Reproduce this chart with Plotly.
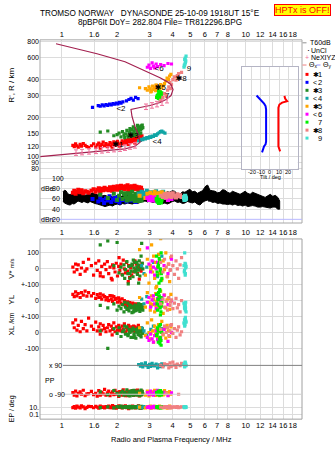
import math
import plotly.graph_objects as go

W, H = 335, 451
FONT = "Liberation Sans, DejaVu Sans, sans-serif"

# ---------------- axes / ticks ----------------
FREQ_TICKS = [1, 1.5, 2, 3, 4, 5, 6, 7, 8, 10, 12, 14, 16, 18]
FREQ_LABELS = ["1", "1.6", "2", "3", "4", "5", "6", "7", "8", "10", "12", "14", "16", "18"]
HEIGHT_TICKS = [80, 90, 100, 120, 150, 200, 300, 400, 600, 800]
DBE_TICKS = [100, 80, 60, 40]
DBE_LABELS = ["100", "80", "60", "40"]
DBN_LEVEL = 20
TILT_TICKS = [-20, -10, 0, 10, 20]
TILT_LABELS = ["-20", "-10", "0", "10", "20"]
LOWER_TICKS = [300, 200, 100, 0, -100, -200, -300]
LOWER_LABELS = ["100", "0", "+-100", "0", "+-100", "0", "-100"]
EP_TICKS = [10, 0.1]
EP_LABELS = ["10.", "0.1"]

# ---------------- true-height profile ----------------
PROF_F = [0.762, 1.372, 1.830, 2.208, 2.501, 2.665, 2.630, 2.501, 2.410, 2.380, 2.665, 3.020,
          3.422, 3.688, 3.927, 4.027, 3.927, 3.735, 3.422, 2.766, 2.208, 1.555, 0.931]
PROF_H = [99.5, 107.5, 111.4, 114.5, 119.8, 128.6, 143.3, 171.5, 205.4, 232.9, 241.4, 250.2,
          264.1, 278.7, 299.7, 333.8, 365.2, 385.5, 414.0, 478.6, 552.6, 638.0, 764.0]
NE_F = [1.196, 1.289, 1.407, 1.536, 1.656, 1.785, 1.924, 2.074, 2.208, 2.351, 2.501,
        2.872, 3.095, 3.296, 3.509, 3.735]
NE_H = [107, 108, 109.5, 110.5, 111.5, 113, 114, 115, 117, 119.5, 122,
        245, 251, 257, 264, 276]

# ---------------- echo classes ----------------
C1_F = [1.15, 1.17, 1.19, 1.21, 1.23, 1.26, 1.28, 1.31, 1.34, 1.37,
        1.45, 1.49, 1.53, 1.56, 1.59, 1.62, 1.65, 1.68, 1.71, 1.74,
        1.77, 1.80, 1.83, 1.86, 1.89, 1.92, 1.95, 1.98, 2.01, 2.04,
        2.07, 2.10, 2.13, 2.16, 2.19, 2.22, 2.25, 2.28, 2.31, 2.34,
        2.37, 2.40, 2.43, 2.46, 2.49, 2.52, 2.55, 2.58, 2.61, 2.64,
        2.67, 2.70, 2.73, 1.40, 1.62, 1.88, 2.05, 2.30, 2.50, 2.68]
C1_R = [122, 119, 125, 121, 118, 124, 120, 126, 122, 119,
        121, 125, 118, 123, 127, 120, 124, 129, 121, 126,
        119, 123, 128, 121, 125, 130, 122, 126, 131, 124,
        120, 127, 132, 125, 129, 134, 127, 131, 136, 128,
        133, 138, 130, 135, 141, 134, 139, 145, 137, 142,
        148, 140, 145, 117, 116, 118, 121, 124, 127, 133]
C1_AMP = [72, 76, 70, 74, 78, 73, 77, 71, 75, 74,
          76, 79, 74, 78, 81, 75, 80, 77, 82, 78,
          80, 77, 83, 79, 81, 84, 78, 82, 85, 80,
          83, 86, 81, 84, 79, 85, 82, 87, 80, 84,
          82, 85, 79, 83, 86, 80, 84, 81, 78, 83,
          79, 82, 77, 72, 73, 76, 78, 75, 80, 77]
C1_V = [10, -20, 30, -5, 25, -35, 5, 40, -15, 0,
        20, -40, 35, -10, 50, -25, 15, -50, 30, -5,
        45, -30, 10, -60, 25, 5, -20, 35, -45, 15,
        -10, 30, -35, 55, 0, -25, 40, -15, 20, -55,
        5, -40, 25, -20, 45, -5, 30, -30, 10, -65,
        20, -15, 35, 60, -45, -70, 70, -80, 50, 0]
C1_YL = [40, 25, 55, 30, 45, 20, 50, 35, 60, 28,
         30, 45, 15, 38, 20, 42, 10, 35, 25, 5,
         20, 0, 32, 10, -5, 25, 8, 15, -10, 18,
         5, -15, 12, -25, 0, -20, -30, -8, -35, -12,
         -25, -40, -15, -30, -45, -20, -35, -50, -28, -40,
         -38, -55, -30, 50, 22, 30, -2, -18, -48, -25]
C1_XL = [60, 30, 80, 15, 45, 5, 70, 25, 50, 10,
         40, 20, 65, 10, 35, 55, 15, 45, 25, 5,
         30, 50, 10, 40, 20, 60, 5, 35, 15, 45,
         25, 10, 40, 20, 55, 5, 30, 15, 45, 0,
         20, 35, 10, 40, 25, 5, 30, 15, 45, 20,
         10, 30, 5, 90, -10, -15, 15, 25, 35, 20]
C1_PP = [-80, -95, -70, -100, -85, -75, -90, -65, -98, -88,
         -72, -92, -84, -102, -68, -95, -78, -88, -60, -96,
         -82, -70, -99, -86, -75, -93, -66, -90, -80, -104,
         -74, -88, -95, -62, -84, -99, -77, -90, -70, -86,
         -93, -80, -68, -97, -85, -75, -92, -64, -88, -100,
         -78, -94, -71, -86, -90, -83, -76, -98, -67, -89]
C1_EP = [8, 15, 5, 20, 10, 6, 25, 12, 4, 9,
         14, 7, 18, 11, 5, 22, 9, 13, 6, 16,
         10, 19, 7, 12, 28, 8, 15, 5, 11, 20,
         9, 14, 6, 17, 10, 24, 8, 12, 4, 13,
         11, 7, 21, 9, 16, 6, 13, 10, 26, 8,
         15, 5, 12, 18, 9, 7, 22, 11, 14, 6]

C2_F = [1.47, 1.58, 1.62, 1.66, 1.70, 1.74, 1.78, 1.82, 1.86, 1.90, 1.94,
        1.98, 2.02, 2.06, 2.10, 2.15, 2.25, 2.32, 2.38, 2.45, 2.52, 2.60]
C2_R = [242, 250, 247, 253, 249, 255, 251, 257, 253, 259, 256,
        262, 258, 265, 261, 267, 272, 279, 285, 276, 290, 283]
C2_AMP = [60, 55, 63, 58, 52, 61, 57, 65, 54, 59, 62,
          56, 64, 53, 60, 58, 55, 62, 57, 61, 54, 59]

C3_F = [1.62, 1.78, 1.92, 2.00, 2.05, 2.10, 2.14, 2.18, 2.22, 2.26,
        2.29, 2.32, 2.35, 2.38, 2.41, 2.44, 2.47, 2.50, 2.53, 2.56,
        2.58, 2.60, 2.62, 2.64, 2.66, 2.68, 2.70, 2.72, 2.74, 2.76,
        2.20, 2.30, 2.40, 2.48, 2.55, 2.62, 2.69, 2.35, 2.45, 2.58]
C3_R = [155, 158, 145, 148, 152, 142, 156, 147, 150, 160,
        145, 153, 158, 148, 162, 152, 157, 165, 150, 160,
        155, 168, 158, 163, 170, 161, 173, 165, 176, 168,
        140, 142, 144, 146, 148, 150, 152, 165, 170, 175]
C3_AMP = [68, 62, 70, 58, 66, 73, 60, 69, 64, 57, 71, 63, 67, 59, 74, 61, 66, 56, 70, 64,
          60, 68, 72, 58, 65, 62, 69, 57, 63, 67, 71, 59, 65, 62, 68, 56, 64, 70, 61, 66]
C3_V = [150, 175, 20, 165, -25, 10, -40, 25, -5, 45,
        -30, 15, -60, -15, 30, -50, 5, 40, -20, 10,
        -35, 25, -8, 50, -45, 15, 80, 160, 35, 0,
        -60, -95, 20, -15, 40, -90, 10, -30, 55, -5]
C3_YL = [-30, -45, -20, -60, -35, -50, -25, -70, -40, -55,
         -15, -65, -30, -45, -75, -38, -52, -28, -62, -42,
         -33, -58, -20, -48, -68, -36, -54, -25, -44, -60,
         -10, -50, -35, -65, -40, -22, -55, -30, -70, -45]
C3_XL = [10, -100, 25, -5, 30, -25, 5, 15, -10, 35,
         -20, 20, 0, -30, 12, 28, -8, 18, -35, 8,
         22, -12, 4, 30, -18, 14, -28, 6, 24, -5,
         40, -10, 16, -22, 2, 26, -15, 10, -30, 20]
C3_PP = [-75, -92, -68, -85, -98, -80, -70, -95, -88, -62, -90, -78, -100, -84, -72, -94, -66, -87, -79, -96,
         -82, -70, -91, -76, -99, -85, -64, -93, -74, -88, -80, -97, -69, -86, -77, -90, -83, -73, -95, -81]
C3_EP = [8, 12, 6, 15, 10, 20, 7, 11, 14, 9, 13, 6, 18, 10, 8, 12, 16, 7, 11, 9,
         14, 8, 22, 10, 6, 12, 9, 17, 11, 7, 13, 10, 8, 15, 9, 11, 6, 14, 10, 12]

C4_F = [2.62, 2.68, 2.72, 2.76, 2.80, 2.85, 2.90, 2.95, 3.00, 3.05,
        3.10, 3.15, 3.20, 3.26, 3.32, 3.38, 3.44, 3.50, 3.56, 3.64]
C4_R = [132, 134, 136, 135, 138, 137, 140, 139, 142, 141,
        144, 143, 147, 146, 150, 153, 156, 158, 155, 152]
C4_AMP = [70, 66, 74, 68, 72, 65, 76, 69, 71, 67, 73, 64, 70, 75, 68, 66, 72, 69, 74, 65]
C4_V = [None, None, 20, None, -30, None, 10, None, None, -15,
        None, 40, None, None, -50, None, None, 80, None, None]
C4_YL = [None, None, 10, None, -20, None, 25, None, None, -35,
         None, 5, None, None, -25, None, None, 15, None, None]
C4_XL = [None, None, 30, None, 10, None, -15, None, None, 20,
         None, 40, None, None, 0, None, None, 25, None, None]
C4_PP = [95, 85, 100, 80, 92, 105, 88, 78, 96, 84, 102, 90, 86, 98, 75, 93, 82, 100, 88, 95]
C4_EP = [12, None, 8, None, 15, None, None, 10, None, None,
         None, None, None, None, None, None, None, None, None, None]

C5_F = [2.65, 2.85, 2.92, 2.98, 3.03, 3.08, 3.12, 3.16, 3.20, 3.24, 3.28, 3.32, 3.36,
        3.40, 3.45, 3.50, 3.56, 3.62, 3.68, 3.74, 3.80, 3.86, 3.92, 3.05, 3.25]
C5_R = [345, 340, 330, 350, 338, 325, 355, 335, 345, 328, 360, 340, 350,
        332, 365, 345, 358, 372, 390, 410, 400, 425, 440, 320, 362]
C5_AMP = [66, 62, 70, 60, 72, 64, 68, 61, 74, 63, 69, 65, 71, 60, 67, 73, 62, 66, 70, 64, 68, 61, 65, 63, 69]
C5_V = [120, -40, 60, -90, 20, 150, -20, 80, -60, 40, -110, 10, 90,
        -30, 190, -70, 50, -5, 100, -50, 30, -80, 70, 0, -120]
C5_YL = [20, -40, 50, -10, -60, 30, -25, 10, -70, 45, -5, -50, 25,
         -35, 60, -15, -80, 35, -45, 5, 15, -55, 40, -20, -30]
C5_XL = [30, -20, 60, 0, -40, 80, 10, -60, 40, -10, 20, -30, 50,
         5, -50, 70, -15, 25, -35, 45, 10, -25, 35, -5, 15]
C5_PP = [-85, -95, -70, -100, -80, -92, -75, -88, -65, -97, -82, -90, -72,
         -98, -86, -78, -94, -68, -88, -80, -96, -74, -90, -84, -76]
C5_EP = [10, 6, 15, 8, 20, 5, 12, 9, 18, 7, 11, 14, 6, 22, 9, 13, 8, 16, 10, 5, 12, 19, 7, 11, 9]

C6_F = [2.92, 2.98, 3.04, 3.10, 3.15, 3.20, 3.26, 3.32, 3.45, 3.60, 3.78, 3.95]
C6_R = [500, 520, 490, 540, 510, 495, 530, 505, 525, 515, 535, 530]
C6_AMP = [62, 58, 64, 57, 60, 63, 56, 61, 59, 62, 58, 60]
C6_V = [131, 30, -20, 50, 10, -40, 0, 40, -10, 20, -30, 60]
C6_YL = [-10, 20, -40, 5, 30, -20, -50, 15, -5, 35, -25, 0]
C6_XL = [-30, -50, -10, -40, -60, -20, 10, -45, -35, 20, -55, 0]
C6_PP = [-80, -92, -70, -88, -95, -75, -85, -65, -90, -78, -98, -82]
C6_EP = [9, 14, 6, 11, 18, 8, 12, 7, 15, 10, 13, 9]

C7_F = [3.28, 3.32, 3.35, 3.38, 3.41, 3.44, 3.47, 3.50, 3.36, 3.43, 3.30, 3.39, 3.46, 3.34, 3.42, 3.48]
C7_R = [290, 300, 285, 310, 295, 320, 305, 315, 325, 280, 298, 288, 312, 305, 292, 302]
C7_AMP = [60, 55, 64, 52, 58, 62, 56, 61, 54, 59, 57, 63, 53, 60, 55, 58]
C7_V = [80, -40, 20, -90, 50, -10, 100, -60, 30, 0, -20, 65, -75, 10, 40, -30]
C7_YL = [40, -60, 10, -30, 70, -90, 20, -10, 50, -45, -20, 30, -70, 5, 60, -35]
C7_XL = [-20, 30, -60, 10, -40, 50, -80, 0, 20, -30, -10, 40, -50, 15, -70, 5]
C7_PP = [-80, -90, -72, -95, -85, -68, -92, -78, -88, -75, -83, -70, -94, -86, -76, -90]
C7_EP = [10, 14, 7, 12, 9, 16, 8, 11, 13, 6, 10, 12, 8, 15, 9, 11]

C8_F = [3.45, 3.55, 3.62, 3.70, 3.76, 3.82, 3.88, 3.95, 4.02, 4.10, 4.18, 4.25, 4.32, 4.40, 4.48, 3.90]
C8_R = [275, 290, 310, 300, 330, 350, 380, 365, 400, 420, 395, 430, 445, 410, 455, 340]
C8_AMP = [66, 64, 69, 63, 70, 65, 68, 64, 71, 66, 63, 69, 65, 67, 64, 70]
C8_V = [40, -20, 60, 10, -50, 30, -10, 80, 20, -35, 50, 0, -60, 25, 70, -5]
C8_YL = [-20, 10, -40, -5, -60, 20, -30, 5, -50, -15, 15, -45, -25, -70, 0, -10]
C8_XL = [20, -10, 40, 0, 30, -20, 10, 50, -5, 25, -30, 15, 35, -15, 5, 45]
C8_PP = [90, 80, 100, -85, 95, 75, 105, 85, 110, 92, 78, 98, -90, 88, 102, 82]
C8_EP = [10, 7, 14, 9, 12, 6, 16, 8, 11, 13, 9, 15, 7, 10, 12, 8]

C9_F = [4.62, 4.65, 4.68, 4.70, 4.72, 4.66, 4.69, 4.74, 4.64, 4.71]
C9_R = [500, 515, 530, 545, 560, 575, 590, 610, 520, 555]
C9_AMP = [62, 58, 65, 60, 63, 59, 66, 61, 64, 60]
C9_V = [20, -10, 35, -30, 5, 100, -40, 15, -20, 30]
C9_YL = [-15, -40, -25, -60, -10, -50, -30, -70, -20, -45]
C9_XL = [60, 80, 50, 95, 70, 40, 85, 65, 55, 75]
C9_PP = [95, 85, 105, 90, 100, 80, 110, 88, 98, 92]
C9_EP = [10, 12, 9, 14, 11, 8, 13, 10, 12, 9]

CLASS_COLORS = ["#ff0000", "#0000ff", "#228b22", "#10a5a5", "#ffa500",
                "#ff00ff", "#00ee00", "#f08080", "#40e0d0"]
CLASS_SYMS = ["\u2731", "<", "\u2731", "<", "\u2731", "<", "", "\u2731", ""]
CLASS_NUMS = ["1", "2", "3", "4", "5", "6", "7", "8", "9"]

# class label positions in the R' panel
LABEL_F = [2.02, 2.10, 2.44, 3.30, 3.44, 3.38, 3.75, 4.45, 4.92]
LABEL_H = [121.9, 237, 143, 128.6, 345, 487, 298, 407, 487]
LABEL_TXT = ["\u27311", "<2", "\u27313", "<4", "\u27315", "<6", "7", "\u27318", "9"]

# unclassified amplitude band (dBe)
UNCL_F = [1.016, 1.035, 1.055, 1.08, 1.11, 1.14, 1.166, 1.2, 1.226, 1.26, 1.289, 1.32, 1.355, 1.39,
          1.425, 1.47, 1.516, 1.56, 1.614, 1.66, 1.718, 1.77, 1.83, 1.89, 1.948, 2.01, 2.074, 2.14,
          2.208, 2.28, 2.351, 2.42, 2.501, 2.58, 2.665, 2.75, 2.836, 2.93, 3.02, 3.11, 3.21, 3.31,
          3.42, 3.53, 3.64, 3.75, 3.87, 3.99, 4.12, 4.25, 4.39, 4.53, 4.67, 4.82, 4.97, 5.13, 5.29,
          5.46, 5.64, 5.82, 6.0, 6.1, 6.22, 6.3, 6.39, 6.6, 6.81, 7.03, 7.25, 7.48, 7.72, 7.97, 8.22,
          8.48, 8.75, 9.03, 9.32, 9.62, 9.93, 10.25, 10.57, 10.9, 11.26, 11.62, 11.99, 12.37, 12.76,
          13.17, 13.6, 14.03, 14.47, 14.95, 15.3]
UNCL_TOP = [74, 77, 76, 70, 68, 72, 70, 73, 75, 72, 73, 69, 67, 70, 69, 72, 70, 68, 69, 66, 67, 65,
            66, 64, 65, 66, 64, 66, 65, 67, 66, 68, 67, 69, 68, 72, 73, 76, 75, 72, 71, 74, 73, 70,
            71, 74, 73, 76, 75, 70, 69, 74, 73, 77, 79, 74, 75, 71, 73, 76, 83, 86, 87, 82, 77, 76,
            75, 72, 73, 78, 77, 73, 71, 75, 73, 70, 69, 72, 75, 71, 69, 73, 71, 68, 67, 64, 63, 66,
            69, 65, 67, 63, 56]
UNCL_BOT = [56, 52, 50, 49, 48, 51, 50, 53, 56, 55, 53, 55, 54, 52, 55, 53, 51, 50, 49, 47, 45, 47,
            48, 46, 49, 50, 48, 51, 50, 52, 51, 50, 52, 51, 53, 55, 56, 54, 56, 53, 54, 52, 54, 51,
            52, 50, 52, 55, 56, 53, 54, 51, 52, 55, 54, 52, 54, 50, 48, 53, 56, 57, 58, 55, 56, 53,
            54, 51, 52, 50, 50, 49, 50, 48, 50, 47, 48, 46, 48, 45, 46, 47, 46, 44, 44, 45, 44, 43,
            42, 44, 44, 40, 40]

# tilt inset
TILT_BLUE_DEG = [-14.7, -12.5, -10.3, -8.65, -6.4, -4.8, -4.2, -4.2, -4.8, -6.4, -8.1, -8.65]
TILT_BLUE_H = [300, 289, 281, 269, 259, 248, 233, 131, 124, 120, 113, 107.5]
TILT_RED_DEG = [15.9, 16.7, 18.9, 13.4, 10.4, 9.3, 9.3, 10.4, 11.2]
TILT_RED_H = [298, 284, 271, 264, 254.7, 241, 120, 112.8, 109.4]

# ---------------- lower panel composite scale ----------------
V_OFF, YL_OFF, XL_OFF = 200, 0, -200
PP_MID, PP_SCALE = -496.875, 181.25 / 180
EP_REF, EP_DEC = -668.75, 21.875
LOWER_RANGE = [-743.75, 387.5]


def py(p):
    return 1 - p / H


def px(p):
    return p / W


X_DOM = [px(40), px(302)]
FRANGE = [-0.118, 1.306]

fig = go.Figure()

classes = [
    (C1_F, C1_R, C1_AMP, C1_V, C1_YL, C1_XL, C1_PP, C1_EP),
    (C2_F, C2_R, C2_AMP, None, None, None, None, None),
    (C3_F, C3_R, C3_AMP, C3_V, C3_YL, C3_XL, C3_PP, C3_EP),
    (C4_F, C4_R, C4_AMP, C4_V, C4_YL, C4_XL, C4_PP, C4_EP),
    (C5_F, C5_R, C5_AMP, C5_V, C5_YL, C5_XL, C5_PP, C5_EP),
    (C6_F, C6_R, C6_AMP, C6_V, C6_YL, C6_XL, C6_PP, C6_EP),
    (C7_F, C7_R, C7_AMP, C7_V, C7_YL, C7_XL, C7_PP, C7_EP),
    (C8_F, C8_R, C8_AMP, C8_V, C8_YL, C8_XL, C8_PP, C8_EP),
    (C9_F, C9_R, C9_AMP, C9_V, C9_YL, C9_XL, C9_PP, C9_EP),
]

MS = 3.2
# unclassified band
fig.add_trace(go.Scatter(x=UNCL_F + UNCL_F[::-1], y=UNCL_TOP + UNCL_BOT[::-1], mode="lines",
                         fill="toself", fillcolor="black", line=dict(color="black", width=1),
                         xaxis="x2", yaxis="y2", hoverinfo="skip"))

for col, (f, r, amp, v, yl, xl, pp, ep) in zip(CLASS_COLORS, classes):
    mk = dict(symbol="square", size=MS, color=col, line=dict(width=0))
    fig.add_trace(go.Scatter(x=f, y=r, mode="markers", marker=mk, xaxis="x", yaxis="y"))
    fig.add_trace(go.Scatter(x=f, y=amp, mode="markers", marker=dict(mk, size=4), xaxis="x2", yaxis="y2"))
    if v is None:
        continue
    lx, ly = [], []
    for i, fi in enumerate(f):
        if v[i] is not None:
            lx.append(fi); ly.append(v[i] + V_OFF)
        if yl[i] is not None:
            lx.append(fi); ly.append(yl[i] + YL_OFF)
        if xl[i] is not None:
            lx.append(fi); ly.append(xl[i] + XL_OFF)
        if pp[i] is not None:
            lx.append(fi); ly.append(PP_MID + pp[i] * PP_SCALE)
        if ep[i] is not None:
            lx.append(fi); ly.append(EP_REF + (math.log10(ep[i]) - 1) * EP_DEC)
    fig.add_trace(go.Scatter(x=lx, y=ly, mode="markers", marker=mk, xaxis="x3", yaxis="y3"))

# profile line and NeXIYZ points
fig.add_trace(go.Scatter(x=PROF_F, y=PROF_H, mode="lines", line=dict(color="#a3204f", width=1.2),
                         xaxis="x", yaxis="y"))
fig.add_trace(go.Scatter(x=NE_F, y=NE_H, mode="markers", marker=dict(size=1, color="#f0709a"),
                         error_y=dict(type="percent", value=5, color="#f0709a", thickness=1, width=2),
                         xaxis="x", yaxis="y"))
fig.add_trace(go.Scatter(x=LABEL_F, y=LABEL_H, mode="text", text=LABEL_TXT,
                         textfont=dict(family=FONT, size=8, color="black"), xaxis="x", yaxis="y"))

# tilt inset
fig.add_trace(go.Scatter(x=TILT_BLUE_DEG, y=TILT_BLUE_H, mode="lines", line=dict(color="#0000ff", width=2),
                         xaxis="x4", yaxis="y4"))
fig.add_trace(go.Scatter(x=TILT_RED_DEG, y=TILT_RED_H, mode="lines", line=dict(color="#ff0000", width=2),
                         xaxis="x4", yaxis="y4"))

GRID = "#dcdcdc"
TF = dict(family=FONT, size=7, color="black")
xcommon = dict(type="log", range=FRANGE, domain=X_DOM, tickvals=FREQ_TICKS, ticktext=FREQ_LABELS,
               showgrid=True, gridcolor=GRID, gridwidth=1, ticks="", zeroline=False, showline=False,
               tickangle=0, tickfont=dict(family=FONT, size=7.5, color="black"))

fig.update_layout(
    width=W, height=H, autosize=False, margin=dict(l=0, r=0, t=0, b=0),
    paper_bgcolor="white", plot_bgcolor="white", showlegend=False,
    font=dict(family=FONT, color="black"),
    xaxis=dict(xcommon, anchor="y", side="top"),
    yaxis=dict(type="log", range=[1.867, 2.914], domain=[py(172), py(38)], anchor="x",
               tickvals=HEIGHT_TICKS, ticktext=[str(t) for t in HEIGHT_TICKS], showgrid=True,
               gridcolor=GRID, ticks="", zeroline=False, tickfont=TF),
    xaxis2=dict(xcommon, anchor="y2", side="bottom", ticklabelstandoff=3),
    yaxis2=dict(range=[12.8, 110.3], domain=[py(222), py(172)], anchor="x2", tickvals=DBE_TICKS,
                showticklabels=False, showgrid=True, gridcolor=GRID, ticks="", zeroline=False),
    xaxis3=dict(xcommon, anchor="y3", side="bottom"),
    yaxis3=dict(range=LOWER_RANGE, domain=[py(419), py(238)], anchor="x3",
                tickvals=LOWER_TICKS + [EP_REF + (math.log10(e) - 1) * EP_DEC for e in EP_TICKS],
                ticktext=LOWER_LABELS + EP_LABELS, showgrid=True, gridcolor=GRID, ticks="",
                zeroline=False, tickfont=TF),
    xaxis4=dict(range=[-31, 30.5], domain=[px(241.7), px(297.7)], anchor="y4", tickvals=TILT_TICKS,
                showticklabels=False, showgrid=True, gridcolor=GRID, ticks="", zeroline=False,
                showline=True, mirror=True, linecolor="#b4b4c4"),
    yaxis4=dict(type="log", range=[1.9008, 2.703], domain=[py(167.7), py(65)], anchor="x4",
                tickvals=[100, 120, 150, 200, 300, 400], showticklabels=False, showgrid=True,
                gridcolor=GRID, ticks="", zeroline=False, showline=True, mirror=True, linecolor="#b4b4c4"),
)

shapes = [
    dict(type="rect", xref="x4 domain", yref="y4 domain", x0=0, x1=1, y0=0, y1=1,
         fillcolor="white", line=dict(width=0), layer="below"),
    dict(type="rect", xref="paper", yref="paper", x0=px(40), x1=px(302), y0=py(222), y1=py(38),
         line=dict(color="#a8a8a8", width=1)),
    dict(type="rect", xref="paper", yref="paper", x0=px(40), x1=px(302), y0=py(419), y1=py(238),
         line=dict(color="#a0a0a0", width=1)),
    dict(type="line", xref="paper", yref="y2", x0=px(40), x1=px(302), y0=DBN_LEVEL, y1=DBN_LEVEL,
         line=dict(color="#b8b8ff", width=1)),
    dict(type="line", xref="paper", yref="y3", x0=px(63), x1=px(302), y0=PP_MID + 90 * PP_SCALE,
         y1=PP_MID + 90 * PP_SCALE, line=dict(color="#808080", width=1)),
    dict(type="line", xref="paper", yref="y3", x0=px(63), x1=px(302), y0=PP_MID - 90 * PP_SCALE,
         y1=PP_MID - 90 * PP_SCALE, line=dict(color="#d0d0d0", width=1)),
    # legend swatches
    dict(type="line", xref="paper", yref="paper", x0=px(302.5), x1=px(306.5), y0=py(41), y1=py(41),
         line=dict(color="#909090", width=1)),
    dict(type="line", xref="paper", yref="paper", x0=px(302.5), x1=px(306.5), y0=py(63.3), y1=py(63.3),
         line=dict(color="#f08080", width=1)),
    dict(type="line", xref="paper", yref="paper", x0=px(316.5), x1=px(320.5), y0=py(63.3), y1=py(63.3),
         line=dict(color="#9090ff", width=1)),
]
for k, col in enumerate(CLASS_COLORS):
    yc = 72.7 + 8 * k
    shapes.append(dict(type="rect", xref="paper", yref="paper", x0=px(305.5), x1=px(308.5),
                       y0=py(yc + 1.5), y1=py(yc - 1.5), fillcolor=col, line=dict(width=0)))
fig.update_layout(shapes=shapes)

ann = []


def A(text, x, y, size=7, xanchor="center", yref="paper", color="black", xref="paper", **kw):
    ann.append(dict(text=text, x=x, y=y, xref=xref, yref=yref, showarrow=False, xanchor=xanchor,
                    yanchor="middle", font=dict(family=FONT, size=size, color=color), **kw))


A("TROMSO NORWAY\u00a0\u00a0\u00a0DYNASONDE 25-10-09 1918UT 15\u00b0E", px(150), py(11.5), size=8.2)
A("8pBP6It DoY= 282.804 File= TR812296.BPG", px(160), py(20.5), size=8.2)
ann.append(dict(text="HPTx is OFF!", x=px(302.5), y=py(8), xref="paper", yref="paper", showarrow=False,
                xanchor="center", yanchor="middle", bgcolor="#ffff00", bordercolor="#ff0000",
                borderwidth=1, borderpad=0, font=dict(family=FONT, size=9, color="#ff0000")))
A("R', R / km", px(12), py(84), size=8, textangle=-90)
A("V* <span style='font-size:6px'>m/s</span>", px(12), py(268), size=8, textangle=-90)
A("YL", px(12), py(299), size=8, textangle=-90)
A("XL <span style='font-size:7px'>/km</span>", px(12), py(324), size=8, textangle=-90)
A("EP / deg", px(12), py(409), size=7, textangle=-90)
A("Radio and Plasma Frequency / MHz", px(171), py(439), size=7.5)
# inset tick labels and title
for t, lab in zip(TILT_TICKS, TILT_LABELS):
    A(lab, t, py(170.3), size=5.5, xref="x4")
A("Tilt / deg", px(270), py(175.5), size=5.5)
for t, lab in zip(DBE_TICKS + [DBN_LEVEL], DBE_LABELS + ["20"]):
    A(lab, px(50), t, yref="y2", xanchor="left")
A("dBe", px(38.5), 80, yref="y2", xanchor="left")
A("dBn", px(38.5), DBN_LEVEL, yref="y2", xanchor="left")
A("x 90", px(46.5), PP_MID + 90 * PP_SCALE, yref="y3", xanchor="left")
A("PP", px(43), py(380), xanchor="left")
A("o -90", px(46.5), PP_MID - 90 * PP_SCALE, yref="y3", xanchor="left")
# legend texts
A("T60dB", px(307.5), py(41), xanchor="left")
A("\u00b7", px(305), py(48), xanchor="left", size=9)
A("UnCl", px(309), py(48.3), xanchor="left")
A("+", px(302.5), py(55.7), xanchor="left", color="#f0709a")
A("NeXIYZ", px(308.5), py(55.7), xanchor="left")
A("\u0398<sub>x</sub>", px(307), py(63.3), xanchor="left")
A("\u0398<sub>y</sub>", px(321), py(63.3), xanchor="left")
for k, (s, n) in enumerate(zip(CLASS_SYMS, CLASS_NUMS)):
    yc = 72.7 + 8 * k
    if s:
        A(s, px(310.5), py(yc), xanchor="left", size=7)
    A(n, px(316), py(yc), xanchor="left", size=7.5)
fig.update_layout(annotations=ann)

fig.write_html("out.html")
